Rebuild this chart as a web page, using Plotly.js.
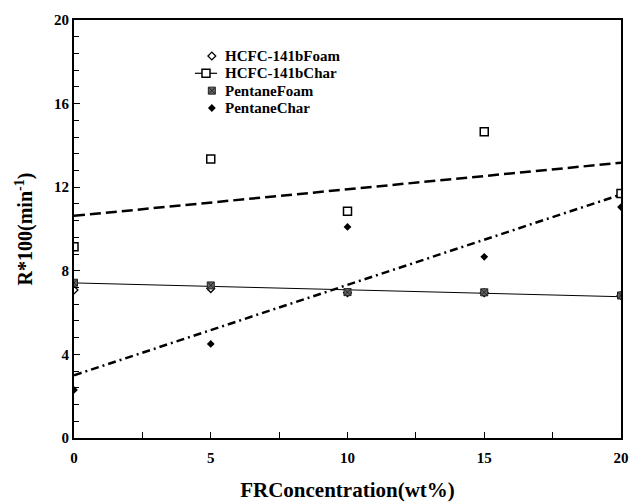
<!DOCTYPE html>
<html><head><meta charset="utf-8">
<script src="https://cdn.plot.ly/plotly-3.0.1.min.js"></script>
<style>body{margin:0;background:#fff}#c{width:633px;height:502px}</style>
</head><body><div id="c"></div>
<script>
var conc = [0, 5, 10, 15, 20];
var hcfcFoam = [7.08, 7.15, 6.95, 6.95, 6.82];
var hcfcChar = [9.15, 13.35, 10.85, 14.65, 11.7];
var pentFoam = [7.43, 7.3, 6.98, 6.97, 6.82];
var pentChar = [2.3, 4.5, 10.1, 8.67, 11.05];
var fitX = [0, 20];
var fitHcfcChar = [10.63, 13.17];
var fitPentChar = [3.0, 11.65];
var fitFoam = [7.42, 6.76];
var names = ['HCFC-141bFoam', 'HCFC-141bChar', 'PentaneFoam', 'PentaneChar'];

var fam = 'Liberation Serif, Times New Roman, serif';
var markers = [
  {symbol: 'diamond-open', size: 6, color: '#000', line: {color: '#000', width: 1.3}},
  {symbol: 'square-open', size: 8, color: '#000', line: {color: '#000', width: 1.5}},
  {symbol: 'square-x', size: 7, color: '#666', line: {color: '#222', width: 1}},
  {symbol: 'diamond', size: 6, color: '#000'}
];
var series = [hcfcFoam, hcfcChar, pentFoam, pentChar];

var traces = [
  {x: fitX, y: fitFoam, mode: 'lines', line: {color: '#000', width: 1}, hoverinfo: 'skip'},
  {x: fitX, y: fitHcfcChar, mode: 'lines', line: {color: '#000', width: 2.5, dash: '11px,5px'}, hoverinfo: 'skip'},
  {x: fitX, y: fitPentChar, mode: 'lines', line: {color: '#000', width: 2.5, dash: '8px,4px,2px,4px'}, hoverinfo: 'skip'}
];
series.forEach(function (s, i) {
  traces.push({x: conc, y: s, mode: 'markers', name: names[i], marker: markers[i]});
});

// hand-built legend box (paper-like overlay axes, range 0..1)
var legTop = 0.914, legStep = 0.0415, legMarkX = 0.252, legTextX = 0.272;
var annotations = [];
names.forEach(function (n, i) {
  var yy = legTop - i * legStep;
  if (i === 1) {
    traces.push({x: [0.2212, 0.2614], y: [yy, yy], xaxis: 'x2', yaxis: 'y2', mode: 'lines',
      line: {color: '#000', width: 1.2}, hoverinfo: 'skip'});
  }
  var mk = JSON.parse(JSON.stringify(markers[i]));
  if (i === 1) { mk.symbol = 'square'; mk.color = '#fff'; }
  traces.push({x: [i === 1 ? 0.2413 : legMarkX], y: [yy], xaxis: 'x2', yaxis: 'y2', mode: 'markers',
    marker: mk, hoverinfo: 'skip'});
  annotations.push({xref: 'paper', yref: 'paper', x: legTextX, y: yy, xanchor: 'left', yanchor: 'middle',
    text: n, showarrow: false, font: {family: fam, size: 15, color: '#000', weight: 'bold'}});
});

var layout = {
  width: 633, height: 502,
  margin: {l: 74, r: 12, t: 20, b: 64},
  paper_bgcolor: '#fff', plot_bgcolor: '#fff',
  showlegend: false,
  annotations: annotations,
  xaxis: {
    range: [0, 20], dtick: 5, tick0: 0, ticks: 'inside', ticklen: 6, tickwidth: 1.2, tickcolor: '#000',
    minor: {dtick: 2.5, ticks: 'inside', ticklen: 6, tickwidth: 1.2, tickcolor: '#000', showgrid: false},
    showline: true, linecolor: '#000', linewidth: 2, mirror: true, showgrid: false, zeroline: false,
    ticklabelstandoff: 5,
    tickfont: {family: fam, size: 15, color: '#000', weight: 'bold'},
    title: {text: 'FRConcentration(wt%)', font: {family: fam, size: 21, color: '#000', weight: 'bold'}, standoff: 18}
  },
  yaxis: {
    range: [0, 20], dtick: 4, tick0: 0, ticks: 'inside', ticklen: 6, tickwidth: 1.2, tickcolor: '#000',
    minor: {dtick: 0.8, ticks: 'inside', ticklen: 5, tickwidth: 1, tickcolor: '#000', showgrid: false},
    showline: true, linecolor: '#000', linewidth: 2, mirror: true, showgrid: false, zeroline: false,
    tickfont: {family: fam, size: 15, color: '#000', weight: 'bold'},
    title: {text: 'R*100(min<sup>-1</sup>)', font: {family: fam, size: 20, color: '#000', weight: 'bold'}, standoff: 16}
  },
  xaxis2: {overlaying: 'x', range: [0, 1], visible: false, fixedrange: true},
  yaxis2: {overlaying: 'y', range: [0, 1], visible: false, fixedrange: true}
};
Plotly.newPlot('c', traces, layout, {displayModeBar: false, staticPlot: true});
</script></body></html>
